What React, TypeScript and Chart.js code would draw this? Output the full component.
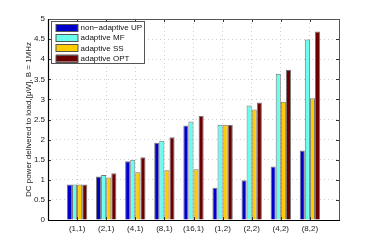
import React, { useEffect, useRef } from 'react';
import { Chart, registerables } from 'chart.js';

Chart.register(...registerables);

const categories = ['(1,1)', '(2,1)', '(4,1)', '(8,1)', '(16,1)', '(1,2)', '(2,2)', '(4,2)', '(8,2)'];
const nonAdaptiveUP = [0.88, 1.08, 1.46, 1.92, 2.35, 0.8, 0.99, 1.33, 1.73];
const adaptiveMF = [0.88, 1.12, 1.5, 1.97, 2.45, 2.37, 2.85, 3.64, 4.49];
const adaptiveSS = [0.88, 1.06, 1.19, 1.24, 1.26, 2.37, 2.75, 2.94, 3.03];
const adaptiveOPT = [0.88, 1.16, 1.56, 2.06, 2.59, 2.37, 2.92, 3.74, 4.69];
const seriesNames = ['non\u2212adaptive UP', 'adaptive MF', 'adaptive SS', 'adaptive OPT'];
const seriesValues = [nonAdaptiveUP, adaptiveMF, adaptiveSS, adaptiveOPT];
const seriesColors = ['#0000CD', '#66FFEE', '#FFCC00', '#6B0000'];
const yAxisTitle = 'DC power delivered to load,[\u03bcW], B = 1MHz';

const FONT = '"Liberation Sans", Arial, Helvetica, sans-serif';

const framePlugin = {
  id: 'frame',
  afterDatasetsDraw(chart: any) {
    const { ctx, chartArea, scales } = chart;
    const { left, top, right, bottom } = chartArea;
    const x = scales.x;
    const y = scales.y;
    ctx.save();
    ctx.lineWidth = 1;
    ctx.strokeStyle = '#333';
    ctx.beginPath();
    y.ticks.forEach((t: any) => {
      const py = Math.round(y.getPixelForValue(t.value)) + 0.5;
      ctx.moveTo(left, py);
      ctx.lineTo(left + 3, py);
      ctx.moveTo(right, py);
      ctx.lineTo(right - 3, py);
    });
    x.ticks.forEach((t: any) => {
      if (t.value < 1 || t.value > categories.length) return;
      const px = Math.round(x.getPixelForValue(t.value)) + 0.5;
      ctx.moveTo(px, bottom);
      ctx.lineTo(px, bottom - 3);
      ctx.moveTo(px, top);
      ctx.lineTo(px, top + 3);
    });
    ctx.stroke();
    ctx.strokeStyle = '#555';
    ctx.beginPath();
    ctx.moveTo(left, Math.round(top) + 0.5);
    ctx.lineTo(right, Math.round(top) + 0.5);
    ctx.moveTo(Math.round(right) + 0.5, top);
    ctx.lineTo(Math.round(right) + 0.5, bottom);
    ctx.stroke();
    ctx.strokeStyle = '#000';
    ctx.lineWidth = 1.2;
    ctx.beginPath();
    ctx.moveTo(Math.round(left) + 0.5, top);
    ctx.lineTo(Math.round(left) + 0.5, bottom);
    ctx.moveTo(left, Math.round(bottom) + 0.5);
    ctx.lineTo(right + 1, Math.round(bottom) + 0.5);
    ctx.stroke();
    ctx.restore();
  },
};

const legendPlugin = {
  id: 'boxLegend',
  afterDraw(chart: any) {
    const { ctx, chartArea } = chart;
    const bx = Math.round(chartArea.left) + 3.5;
    const by = Math.round(chartArea.top) + 2.5;
    const bw = 93;
    const bh = 42;
    ctx.save();
    ctx.fillStyle = '#fff';
    ctx.fillRect(bx, by, bw, bh);
    ctx.strokeStyle = '#555';
    ctx.lineWidth = 1;
    ctx.strokeRect(bx, by, bw, bh);
    ctx.font = `8px ${FONT}`;
    ctx.textBaseline = 'middle';
    ctx.textAlign = 'left';
    chart.data.datasets.forEach((ds: any, i: number) => {
      const cy = by + 6 + i * 10.2;
      ctx.fillStyle = ds.backgroundColor;
      ctx.fillRect(bx + 4.5, cy - 3.5, 22, 7);
      ctx.strokeStyle = '#555';
      ctx.strokeRect(bx + 4.5, Math.round(cy - 3.5) + 0.5, 22, 7);
      ctx.fillStyle = '#111';
      ctx.fillText(ds.label, bx + 29, cy + 0.5);
    });
    ctx.restore();
  },
};

export default function App() {
  const canvasRef = useRef<HTMLCanvasElement | null>(null);

  useEffect(() => {
    const canvas = canvasRef.current;
    if (!canvas) return;
    const chart = new Chart(canvas, {
      type: 'bar',
      data: {
        datasets: seriesNames.map((name, si) => ({
          label: name,
          data: seriesValues[si].map((v, i) => ({ x: i + 1, y: v })),
          backgroundColor: seriesColors[si],
          borderColor: '#777',
          borderWidth: 1,
          categoryPercentage: 0.7,
          barPercentage: 1,
        })),
      },
      options: {
        responsive: false,
        animation: false,
        devicePixelRatio: 1,
        layout: { padding: { top: 19, right: 35, left: 0, bottom: 0 } },
        plugins: {
          legend: { display: false },
          tooltip: { enabled: false },
        },
        scales: {
          x: {
            type: 'linear',
            min: 0,
            max: categories.length + 1,
            offset: false,
            afterFit: (s: any) => {
              s.height = 28;
            },
            ticks: {
              stepSize: 1,
              autoSkip: false,
              maxRotation: 0,
              padding: 4,
              color: '#222',
              font: { family: FONT, size: 8 },
              callback: (v: any) => categories[Number(v) - 1] ?? '',
            },
            grid: {
              offset: false,
              drawTicks: false,
              color: (c: any) =>
                c.tick && c.tick.value >= 1 && c.tick.value <= categories.length ? '#cfcfcf' : 'rgba(0,0,0,0)',
              lineWidth: 1,
            },
            border: { display: false, dash: [1, 3] },
          },
          y: {
            min: 0,
            max: 5,
            afterFit: (s: any) => {
              s.width = 48;
            },
            ticks: {
              stepSize: 0.5,
              padding: 3,
              color: '#222',
              font: { family: FONT, size: 8 },
              callback: (v: any) => String(Math.round(Number(v) * 10) / 10),
            },
            grid: {
              drawTicks: false,
              color: (c: any) => (c.tick && c.tick.value > 0 && c.tick.value < 5 ? '#cfcfcf' : 'rgba(0,0,0,0)'),
              lineWidth: 1,
            },
            border: { display: false, dash: [1, 3] },
            title: {
              display: true,
              text: yAxisTitle,
              color: '#222',
              font: { family: FONT, size: 8 },
              padding: { top: 24, bottom: 0 },
            },
          },
        },
      },
      plugins: [framePlugin, legendPlugin],
    } as any);
    return () => chart.destroy();
  }, []);

  return (
    <div style={{ position: 'fixed', left: 0, top: 0, width: 374, height: 248, background: '#fff' }}>
      <canvas ref={canvasRef} width={374} height={248} style={{ display: 'block', width: 374, height: 248 }} />
    </div>
  );
}
